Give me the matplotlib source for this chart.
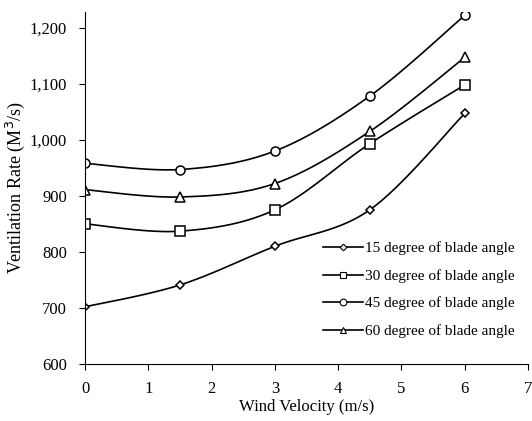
import numpy as np
import matplotlib
matplotlib.use("Agg")
import matplotlib.pyplot as plt
from matplotlib.ticker import FuncFormatter

plt.rcParams['font.family'] = ['Liberation Serif', 'DejaVu Serif']

wind = [0, 1.5, 3, 4.5, 6]
deg15 = [702, 741, 810, 875, 1047]
deg30 = [850, 837, 875, 993, 1098]
deg45 = [958, 947, 980, 1078, 1222]
deg60 = [911, 898, 922, 1015, 1147]
labels = ["15 degree of blade angle", "30 degree of blade angle",
          "45 degree of blade angle", "60 degree of blade angle"]


def smooth(x, y, n=30):
    # catmull-rom like excel smoothed line
    x = np.asarray(x, float)
    y = np.asarray(y, float)
    px = np.concatenate([[x[0]], x, [x[-1]]])
    py = np.concatenate([[y[0]], y, [y[-1]]])
    xs, ys = [], []
    t = np.linspace(0, 1, n)
    for i in range(1, len(px) - 2):
        p0, p1, p2, p3 = [np.array([px[j], py[j]]) for j in (i - 1, i, i + 1, i + 2)]
        c1 = p1 + (p2 - p0) / 6
        c2 = p2 - (p3 - p1) / 6
        pts = ((1 - t) ** 3)[:, None] * p1 + (3 * (1 - t) ** 2 * t)[:, None] * c1 \
            + (3 * (1 - t) * t ** 2)[:, None] * c2 + (t ** 3)[:, None] * p2
        xs.extend(pts[:, 0])
        ys.extend(pts[:, 1])
    return xs, ys


fig = plt.figure(figsize=(5.32, 4.21), dpi=100)
ax = fig.add_axes([85 / 532, 1 - 364 / 421, 443 / 532, 352 / 421])

markers = ['D', 's', 'o', '^']
msizes = [4.5, 6.5, 6.5, 6.5]
for ys, m, ms, lab in zip([deg15, deg30, deg45, deg60], markers, msizes, labels):
    sx, sy = smooth(wind, ys)
    ax.plot(sx, sy, color='black', lw=1.2)
    ax.plot(wind, ys, ls='none', marker=m, ms=ms, mfc='white', mec='black', mew=1.1)
    ax.plot([], [], color='black', lw=1.2, marker=m, ms=ms * 0.75, mfc='white',
            mec='black', mew=0.8, label=lab)

ax.set_xlim(0, 7)
ax.set_ylim(600, 1228)
ax.set_xticks(range(0, 8))
ax.set_yticks(range(600, 1201, 100))
ax.yaxis.set_major_formatter(FuncFormatter(lambda v, p: f"{int(v):,}"))
ax.spines['top'].set_visible(False)
ax.spines['right'].set_visible(False)
ax.tick_params(direction='out', length=4, labelsize=12, width=0.8)
ax.tick_params(axis='x', pad=8)
ax.tick_params(axis='y', pad=9)
ax.set_xlabel("Wind Velocity (m/s)", fontsize=12, labelpad=2)
ax.set_ylabel("Ventilation Rate (M$^3$/s)", fontsize=13, labelpad=2)

ax.legend(loc='lower right', bbox_to_anchor=(1.0, 0.035), frameon=False,
          fontsize=11, handlelength=2.6, handletextpad=0.1, labelspacing=0.9)

fig.savefig("out.png", dpi=100)
